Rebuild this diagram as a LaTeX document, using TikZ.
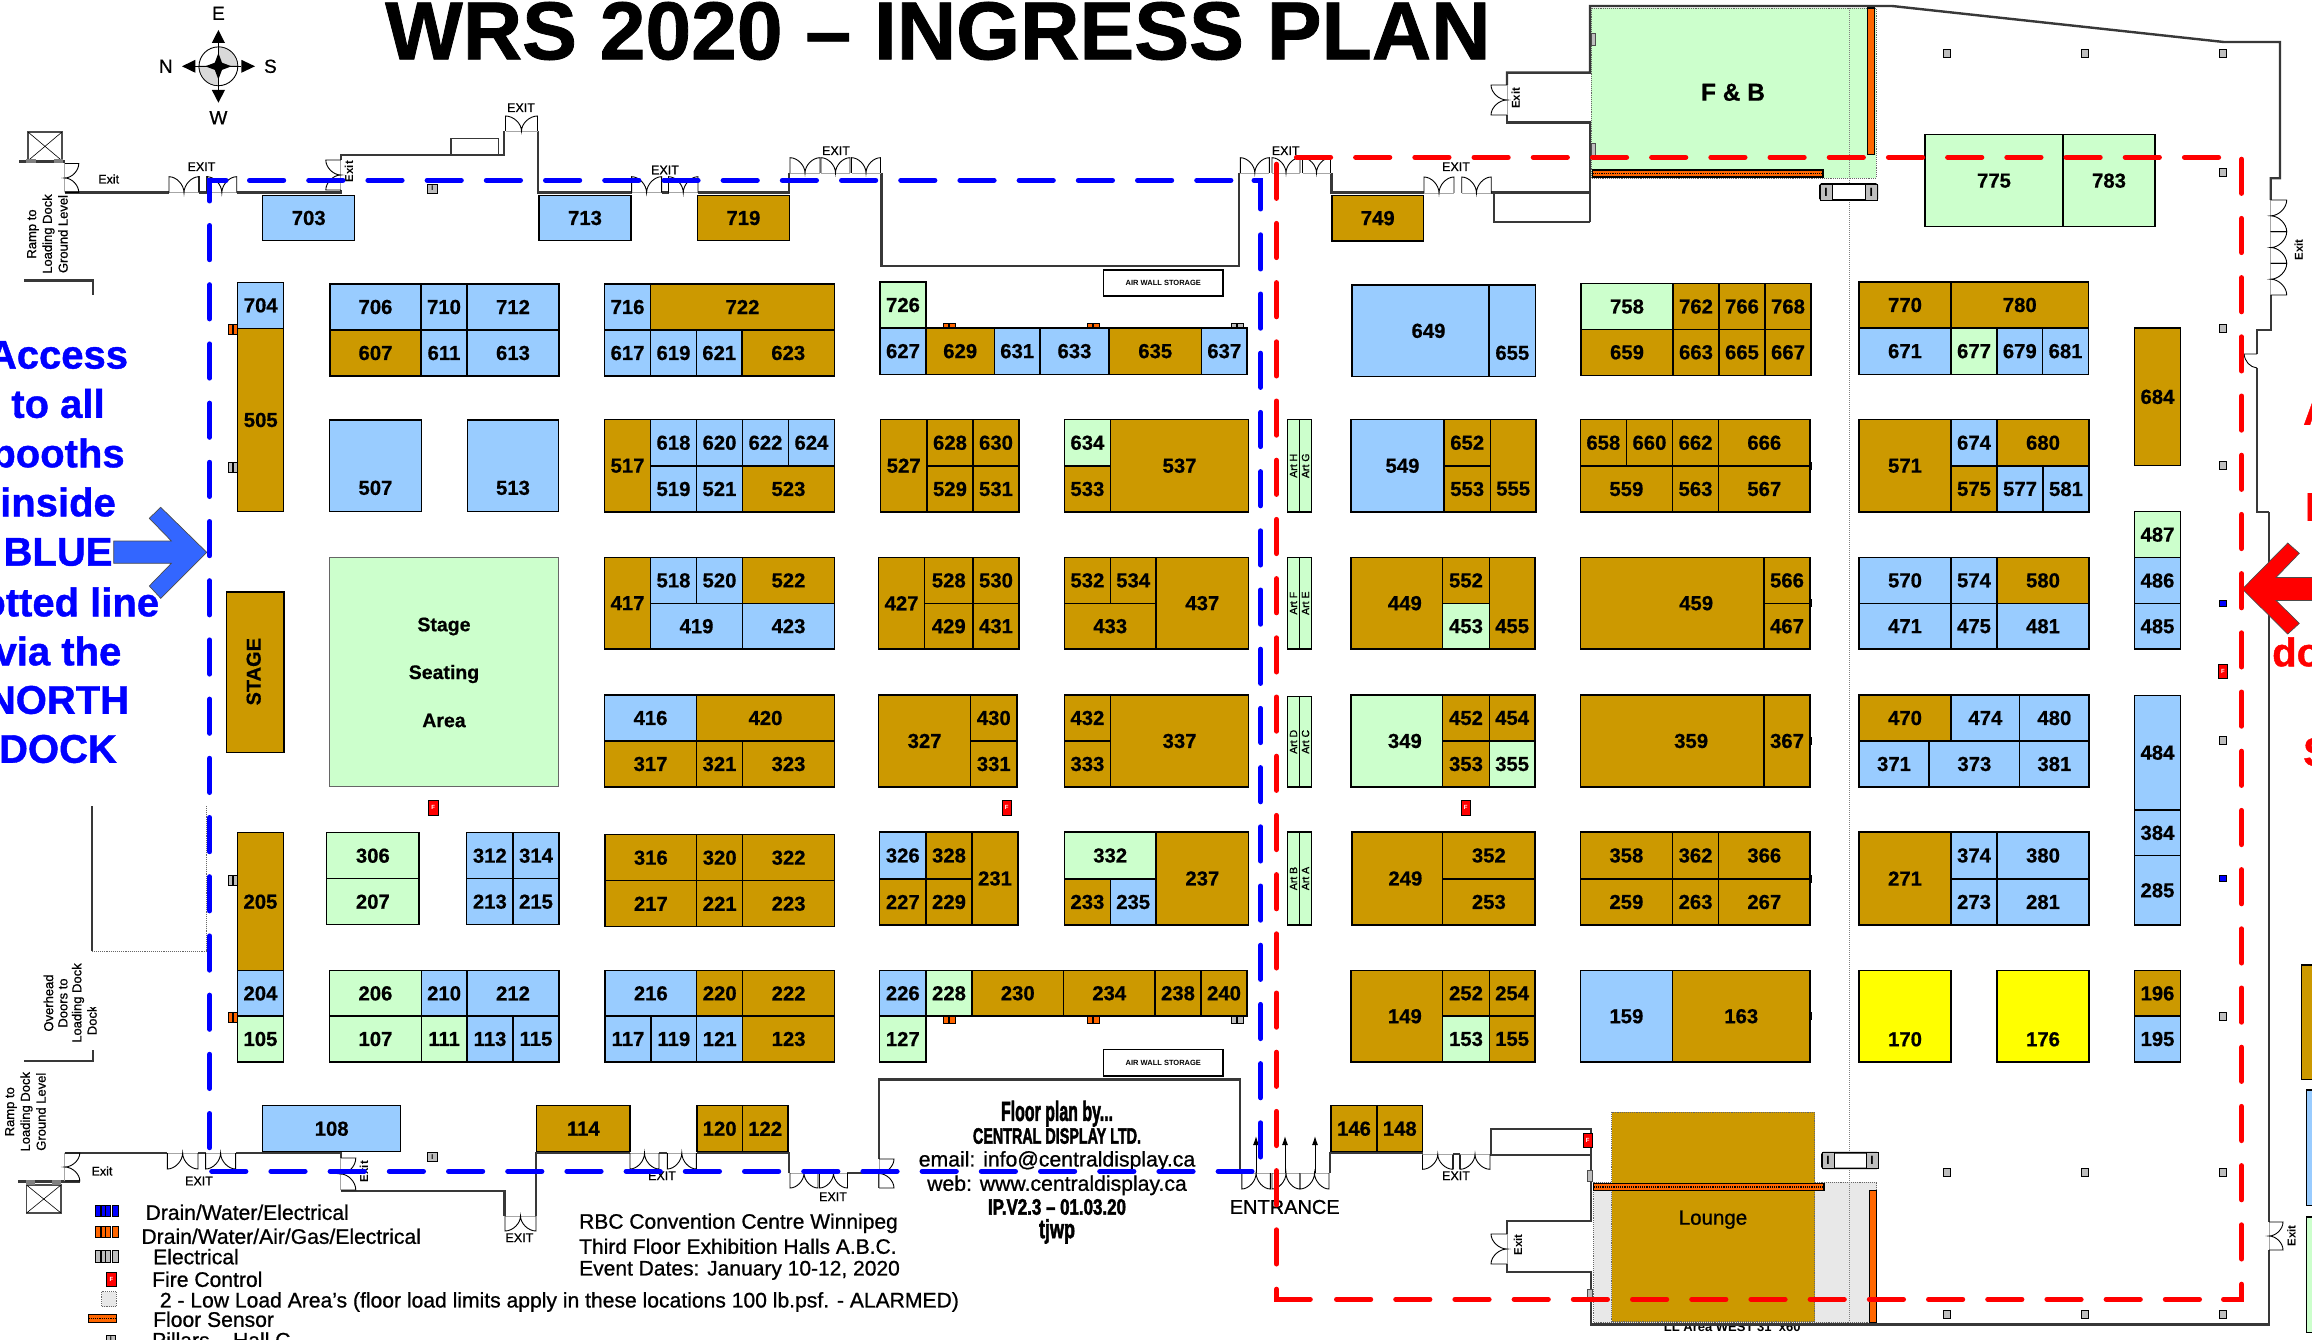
\documentclass[tikz,border=0pt]{standalone}
\usepackage{fontspec}
\usepackage{graphicx}
\setmainfont{Liberation Sans}
\newfontfamily\semib[FakeBold=0.8]{Liberation Sans}
\newfontfamily\heavyf[BoldFeatures={FakeBold=1.0}]{Liberation Sans}
\newfontfamily\numf[BoldFeatures={FakeBold=0.6}]{Liberation Sans}
\newfontfamily\heavier[BoldFeatures={FakeBold=2.5}]{Liberation Sans}
\usetikzlibrary{arrows.meta}
\definecolor{bb}{HTML}{99CCFF}
\definecolor{br}{HTML}{CC9900}
\definecolor{gr}{HTML}{CCFFCC}
\definecolor{yl}{HTML}{FFFF00}
\definecolor{orng}{HTML}{FF6600}
\definecolor{wallc}{HTML}{383838}
\definecolor{lowg}{HTML}{E8E8E8}
\definecolor{pilg}{HTML}{BEBEBE}
\definecolor{arrb}{HTML}{3366FF}
\newcommand{\fs}[1]{\fontsize{#1}{#1}\selectfont}
\tikzset{
  num/.style={inner sep=0pt,font=\fs{20.3}\numf\bfseries,text=black},
  boothbox/.style={draw=black,line width=1.2pt},
  wall/.style={draw=wallc,line width=2.4pt,line cap=butt,line join=miter},
  thinwall/.style={draw=wallc,line width=1.5pt},
  doorline/.style={draw=black,line width=0.9pt},
  doorbase/.style={draw=black!35,line width=0.8pt},
  exitlab/.style={inner sep=0pt,font=\fs{12.5}\semib},
  exitrot/.style={inner sep=0pt,font=\fs{11.5}\bfseries,rotate=90},
  ramp/.style={inner sep=0pt,font=\fs{13}\semib,rotate=90},
  arttxt/.style={inner sep=0pt,font=\fs{10.5}\semib,rotate=90},
  legtxt/.style={inner sep=0pt,anchor=west,font=\fs{21.1}\semib},
  centertxt/.style={inner sep=0pt,font=\fs{21.2}\semib},
  bigblue/.style={inner sep=0pt,font=\fs{40}\heavyf\bfseries,text=blue},
  bigred/.style={inner sep=0pt,font=\fs{40}\heavyf\bfseries,text=red,anchor=west},
  bdash/.style={draw=blue,line width=5pt,line cap=round,dash pattern=on 34.2pt off 25pt},
  rdash/.style={draw=red,line width=5pt,line cap=round,dash pattern=on 34.2pt off 25pt},
  bsolid/.style={draw=blue,line width=5pt,line cap=round,line join=miter},
  rsolid/.style={draw=red,line width=5pt,line cap=round,line join=miter},
  airbox/.style={draw=black,line width=1.3pt,fill=white},
  airtxt/.style={inner sep=0pt,font=\fs{7.5}\bfseries},
  sensor/.style={draw=black,line width=1.2pt,fill=orng},
  sensordots/.style={draw=black,line width=1.2pt,densely dotted},
  dotgrey/.style={draw=black!60,line width=0.9pt,densely dotted},
}
\newcommand{\bthO}[8]{%
  \path[boothbox,fill=#3] (#4,#5) rectangle (#6,#7);
  \node[num] (b#8) at ({(#4+#6)/2+#1},{(#5+#7)/2+#2}) {#8};}
\newcommand{\bth}[6]{\bthO{0}{0}{#1}{#2}{#3}{#4}{#5}{#6}}
\newcommand{\drH}[4]{%
  \draw[doorbase] (#1,#3) -- ({#1+#2},#3);
  \draw[doorline] (#1,#3) -- (#1,{#3-#4})
   .. controls ({#1+#2/4},{#3-#4}) and ({#1+#2/2},{#3-#4/2}) .. ({#1+#2/2},#3)
   .. controls ({#1+#2/2},{#3-#4/2}) and ({#1+3*#2/4},{#3-#4}) .. ({#1+#2},{#3-#4})
   -- ({#1+#2},#3);}
\newcommand{\drV}[4]{%
  \draw[doorbase] (#1,#2) -- (#1,{#2+#3});
  \draw[doorline] (#1,#2) -- ({#1+#4},#2)
   .. controls ({#1+#4},{#2+#3/4}) and ({#1+#4/2},{#2+#3/2}) .. (#1,{#2+#3/2})
   .. controls ({#1+#4/2},{#2+#3/2}) and ({#1+#4},{#2+3*#3/4}) .. ({#1+#4},{#2+#3})
   -- (#1,{#2+#3});}
\newcommand{\util}[5]{%
  \path[draw=black,line width=0.6pt,fill=#1] (#2,#3) rectangle ({#2+#4*0.46},{#3+#5});
  \path[draw=black,line width=0.6pt,fill=#1] ({#2+#4*0.54},#3) rectangle ({#2+#4},{#3+#5});}
\newcommand{\pil}[2]{\path[draw=black,line width=0.7pt,fill=pilg] ({#1-3.4},{#2-4}) rectangle ({#1+3.4},{#2+4});}
\newcommand{\bluem}[2]{\path[draw=black,line width=0.5pt,fill=blue] ({#1-3.8},{#2-3.2}) rectangle ({#1+3.8},{#2+3.2});}
\newcommand{\firec}[5]{%
  \path[draw=black,line width=0.6pt,fill=red] (#2,#3) rectangle (#4,#5);
  \node[inner sep=0pt,font=\fs{6}\bfseries,text=white] (#1) at ({(#2+#4)/2},{(#3+#5)/2}) {F};}
\newcommand{\hbeam}[3]{%
  \path[draw=black,line width=0.8pt,fill=pilg] (#2,#3) rectangle ({#2+9.5},{#3+9});
  \node[inner sep=0pt,font=\fs{7}\bfseries] (#1) at ({#2+4.75},{#3+4.5}) {I};}
\newcommand{\beampair}[6]{%
  \path[draw=black,line width=1.6pt,rounded corners=1.5pt,fill=white] (#3,#4) rectangle (#5,#6);
  \path[draw=black,line width=0.8pt,fill=pilg] (#3,#4) rectangle ({#3+12},#6);
  \path[draw=black,line width=0.8pt,fill=pilg] ({#5-12},#4) rectangle (#5,#6);
  \node[inner sep=0pt,font=\fs{12}\bfseries] (#1) at ({#3+6},{(#4+#6)/2}) {I};
  \node[inner sep=0pt,font=\fs{12}\bfseries] (#2) at ({#5-6},{(#4+#6)/2}) {I};}
\newcommand{\nub}[2]{\path[fill=black] (#1,{#2-4}) rectangle ({#1+2.2},{#2+4});}
\newcommand{\lift}[4]{%
  \path[draw=black!70,line width=1.2pt] (#1,#2) rectangle (#3,#4);
  \draw[black,line width=0.6pt] (#1,#2) -- (#3,#4) (#1,#4) -- (#3,#2);}
\begin{document}
\begin{tikzpicture}[x=1pt,y=-1pt]
\useasboundingbox (0,0) rectangle (2312,1340);
\path[fill=white] (0,0) rectangle (2312,1340);

%% title
\node[inner sep=0pt,anchor=base west,font=\fs{82.2}\heavyf\bfseries] (title) at (385,59.3) {WRS 2020 – INGRESS PLAN};

%% compass
\path[draw=black,line width=0.9pt,fill=white] (218.4,66.3) circle (19.4);
\path[fill=black!15,draw=black,line width=0.6pt] (218.4,66.3) -- (218.4,46.9) arc[start angle=270,end angle=360,radius=19.4] -- cycle;
\path[fill=black!15,draw=black,line width=0.6pt] (218.4,66.3) -- (218.4,85.7) arc[start angle=90,end angle=180,radius=19.4] -- cycle;
\draw[black,line width=0.9pt] (218.4,43) -- (218.4,90) (195.4,66.3) -- (241.3,66.3);
\path[fill=black] (218.4,53) -- (222,62.7) -- (231.5,66.3) -- (222,69.9) -- (218.4,79.5) -- (214.8,69.9) -- (205.3,66.3) -- (214.8,62.7) -- cycle;
\path[fill=black] (218.4,30) -- (225,43) -- (211.8,43) -- cycle;
\path[fill=black] (218.4,102.7) -- (225,90) -- (211.8,90) -- cycle;
\path[fill=black] (182,66.3) -- (195.4,59.8) -- (195.4,72.8) -- cycle;
\path[fill=black] (255,66.3) -- (241.3,59.8) -- (241.3,72.8) -- cycle;
\node[inner sep=0pt,font=\fs{19}\semib] (cpE) at (218.4,13.3) {E};
\node[inner sep=0pt,font=\fs{19}\semib] (cpW) at (218.4,117.7) {W};
\node[inner sep=0pt,font=\fs{19}\semib] (cpN) at (165.8,66.3) {N};
\node[inner sep=0pt,font=\fs{19}\semib] (cpS) at (270.4,66.3) {S};

%% special areas (top)
\path[fill=gr,dotgrey] (1591,8) rectangle (1876,178);
\node[inner sep=0pt,font=\fs{24.5}\numf\bfseries] (fb) at (1733,92.3) {F \& B};

%% bottom areas
\node[inner sep=0pt,font=\fs{13}\bfseries] (llarea) at (1734,1327) {LL Area WEST 31’ x60’};
\path[fill=lowg,dotgrey] (1593.6,1182.3) rectangle (1876.8,1322.7);
\path[fill=br,dotgrey] (1611.5,1112.3) rectangle (1814.5,1321.7);
\node[inner sep=0pt,font=\fs{20.5}\semib] (lounge) at (1713,1219.7) {Lounge};

%% thin divider
\draw[black!50,line width=1pt,densely dotted] (1849.8,8) -- (1849.8,1322);

%% sensors
\path[sensor] (1867.6,8) rectangle (1874.8,154.3);
\path[sensor] (1592.6,170) rectangle (1823,177);
\draw[sensordots] (1592.6,173.5) -- (1823,173.5);
\path[sensor] (1593.6,1183.3) rectangle (1824,1190.7);
\draw[sensordots] (1593.6,1187) -- (1824,1187);
\path[sensor] (1869.7,1190.7) rectangle (1876.3,1322.7);

%% utilities beside booths (booths drawn afterwards)
\util{orng}{228.5}{324}{9}{10.3}
\util{pilg}{228.5}{462.7}{9}{9.5}
\util{pilg}{228.2}{875}{9}{10}
\util{orng}{228.2}{1012.3}{9}{10.4}
\util{orng}{943}{323.5}{12}{6}
\util{orng}{1087}{323.5}{12}{6}
\util{pilg}{1231}{323.5}{12}{6}
\util{orng}{943}{1016}{12}{7}
\util{orng}{1087}{1016}{12}{7}
\util{pilg}{1231}{1016}{12}{7}

%% top-edge booths
\bth{bb}{262.8}{195.3}{354.6}{240.7}{703}
\bth{bb}{539}{195.3}{631}{240.7}{713}
\bth{br}{697.5}{195.3}{789.3}{240.7}{719}
\bth{br}{1332}{195.3}{1423.5}{241}{749}
\bth{gr}{1925}{134.7}{2063}{226.7}{775}
\bth{gr}{2063}{134.7}{2155}{226.7}{783}

%% left column
\bth{bb}{237.8}{282.3}{283.7}{328.3}{704}
\bth{br}{237.8}{328.3}{283.7}{511.7}{505}
\path[boothbox,fill=br] (226.6,592) rectangle (284,752.7);
\node[inner sep=0pt,font=\fs{20}\numf\bfseries,rotate=90] (stage) at (253.7,671.7) {STAGE};
\bth{br}{237.5}{832.7}{283.4}{970.7}{205}
\bth{bb}{237.5}{970.7}{283.4}{1016}{204}
\bth{gr}{237.5}{1016}{283.4}{1062}{105}

%% 706 block
\bth{bb}{330}{284}{421}{330}{706}
\bth{bb}{421}{284}{467}{330}{710}
\bth{bb}{467}{284}{559}{330}{712}
\bth{br}{330}{330}{421}{376}{607}
\bth{bb}{421}{330}{467}{376}{611}
\bth{bb}{467}{330}{559}{376}{613}
\bthO{0}{22}{bb}{329.5}{420}{421.4}{511.7}{507}
\bthO{0}{22}{bb}{467.3}{420}{558.7}{511.7}{513}
\path[boothbox,draw=black!60,fill=gr] (329.5,557.3) rectangle (558.7,786.7);
\node[inner sep=0pt,font=\fs{19.5}\numf\bfseries] (seat1) at (444,626.5) {Stage};
\node[inner sep=0pt,font=\fs{19.5}\numf\bfseries] (seat2) at (444,674) {Seating};
\node[inner sep=0pt,font=\fs{19.5}\numf\bfseries] (seat3) at (444,720.5) {Area};
\bth{gr}{326.7}{832.7}{419}{878.7}{306}
\bth{gr}{326.7}{878.7}{419}{924.7}{207}
\bth{bb}{466.7}{832.7}{513}{878.7}{312}
\bth{bb}{513}{832.7}{559}{878.7}{314}
\bth{bb}{466.7}{878.7}{513}{924.7}{213}
\bth{bb}{513}{878.7}{559}{924.7}{215}
\bth{gr}{329.7}{970.7}{421.2}{1016}{206}
\bth{bb}{421.2}{970.7}{467}{1016}{210}
\bth{bb}{467}{970.7}{559}{1016}{212}
\bth{gr}{329.7}{1016}{421.2}{1062}{107}
\bth{gr}{421.2}{1016}{467}{1062}{111}
\bth{bb}{467}{1016}{513}{1062}{113}
\bth{bb}{513}{1016}{559}{1062}{115}

%% 716 block
\bth{bb}{604.6}{284}{650.5}{330}{716}
\bth{br}{650.5}{284}{834.5}{330}{722}
\bth{bb}{604.6}{330}{650.5}{376}{617}
\bth{bb}{650.5}{330}{696.5}{376}{619}
\bth{bb}{696.5}{330}{742}{376}{621}
\bth{br}{742}{330}{834.5}{376}{623}
%% 517 block
\bth{br}{604.6}{419.5}{650.5}{512}{517}
\bth{bb}{650.5}{419.5}{696.5}{466}{618}
\bth{bb}{696.5}{419.5}{742.5}{466}{620}
\bth{bb}{742.5}{419.5}{788.5}{466}{622}
\bth{bb}{788.5}{419.5}{834.5}{466}{624}
\bth{bb}{650.5}{466}{696.5}{512}{519}
\bth{bb}{696.5}{466}{742.5}{512}{521}
\bth{br}{742.5}{466}{834.5}{512}{523}
%% 417 block
\bth{br}{604.6}{557.4}{650.5}{649}{417}
\bth{bb}{650.5}{557.4}{696.5}{603.4}{518}
\bth{bb}{696.5}{557.4}{742.5}{603.4}{520}
\bth{br}{742.5}{557.4}{834.5}{603.4}{522}
\bth{bb}{650.5}{603.4}{742.5}{649}{419}
\bth{bb}{742.5}{603.4}{834.5}{649}{423}
%% 416 block
\bth{bb}{604.6}{695}{696.5}{741}{416}
\bth{br}{696.5}{695}{834.5}{741}{420}
\bth{br}{604.6}{741}{696.5}{787}{317}
\bth{br}{696.5}{741}{742.5}{787}{321}
\bth{br}{742.5}{741}{834.5}{787}{323}
%% 316 block
\bth{br}{605}{834.7}{696.7}{880.7}{316}
\bth{br}{696.7}{834.7}{742.7}{880.7}{320}
\bth{br}{742.7}{834.7}{834.5}{880.7}{322}
\bth{br}{605}{880.7}{696.7}{926.7}{217}
\bth{br}{696.7}{880.7}{742.7}{926.7}{221}
\bth{br}{742.7}{880.7}{834.5}{926.7}{223}
%% 216 block
\bth{bb}{605}{970.7}{696.7}{1016}{216}
\bth{br}{696.7}{970.7}{742.7}{1016}{220}
\bth{br}{742.7}{970.7}{834.5}{1016}{222}
\bth{bb}{605}{1016}{651}{1062}{117}
\bth{bb}{651}{1016}{696.7}{1062}{119}
\bth{bb}{696.7}{1016}{742.7}{1062}{121}
\bth{br}{742.7}{1016}{834.5}{1062}{123}

%% 627 row
\bth{gr}{880}{282}{926}{328}{726}
\bth{bb}{880}{328}{926}{374.3}{627}
\bth{br}{926}{328}{994.4}{374.3}{629}
\bth{bb}{994.4}{328}{1040}{374.3}{631}
\bth{bb}{1040}{328}{1109}{374.3}{633}
\bth{br}{1109}{328}{1201.5}{374.3}{635}
\bth{bb}{1201.5}{328}{1247}{374.3}{637}
%% 527
\bth{br}{880.4}{419.5}{927}{512}{527}
\bth{br}{927}{419.5}{973}{466}{628}
\bth{br}{973}{419.5}{1019}{466}{630}
\bth{br}{927}{466}{973}{512}{529}
\bth{br}{973}{466}{1019}{512}{531}
\bth{gr}{1064.4}{419.5}{1110.4}{466}{634}
\bth{br}{1064.4}{466}{1110.4}{512}{533}
\bth{br}{1110.4}{419.5}{1248.7}{512}{537}
%% 427
\bth{br}{878.6}{557.4}{924.6}{649}{427}
\bth{br}{924.6}{557.4}{973}{603.4}{528}
\bth{br}{973}{557.4}{1019}{603.4}{530}
\bth{br}{924.6}{603.4}{973}{649}{429}
\bth{br}{973}{603.4}{1019}{649}{431}
\bth{br}{1064.4}{557.4}{1110.4}{603.4}{532}
\bth{br}{1110.4}{557.4}{1156}{603.4}{534}
\bth{br}{1064.4}{603.4}{1156}{649}{433}
\bth{br}{1156}{557.4}{1248.7}{649}{437}
%% 327
\bth{br}{878.6}{695}{970.6}{787}{327}
\bth{br}{970.6}{695}{1017}{741}{430}
\bth{br}{970.6}{741}{1017}{787}{331}
\bth{br}{1064.4}{695}{1110.4}{741}{432}
\bth{br}{1064.4}{741}{1110.4}{787}{333}
\bth{br}{1110.4}{695}{1248.7}{787}{337}
%% 326
\bth{bb}{879.6}{832}{926}{879}{326}
\bth{br}{926}{832}{972}{879}{328}
\bth{br}{879.6}{879}{926}{925}{227}
\bth{br}{926}{879}{972}{925}{229}
\bth{br}{972}{832}{1018}{925}{231}
\bth{gr}{1064.4}{832}{1156}{879}{332}
\bth{br}{1064.4}{879}{1110.4}{925}{233}
\bth{bb}{1110.4}{879}{1156}{925}{235}
\bth{br}{1156}{832}{1248.7}{925}{237}
%% 226 row
\bth{bb}{879.6}{970.5}{926}{1016}{226}
\bth{gr}{926}{970.5}{972}{1016}{228}
\bth{br}{972}{970.5}{1063.5}{1016}{230}
\bth{br}{1063.5}{970.5}{1155}{1016}{234}
\bth{br}{1155}{970.5}{1201}{1016}{238}
\bth{br}{1201}{970.5}{1247}{1016}{240}
\bth{gr}{879.6}{1016}{926}{1062}{127}

%% air wall storage
\path[airbox] (1103.6,270) rectangle (1223,296);
\node[airtxt] (air1) at (1163.3,283) {AIR WALL STORAGE};
\path[airbox] (1103.6,1049.3) rectangle (1223,1076);
\node[airtxt] (air2) at (1163.3,1062.5) {AIR WALL STORAGE};

%% art columns
\foreach \ya/\yb/\la/\lb/\n in {419.5/512/Art H/Art G/1,557.4/649/Art F/Art E/2,696.6/787/Art D/Art C/3,832/925/Art B/Art A/4}{
  \path[boothbox,fill=gr] (1287.4,\ya) rectangle (1299.5,\yb);
  \path[boothbox,fill=gr] (1299.5,\ya) rectangle (1311.6,\yb);
  \node[arttxt] (artl\n) at (1293.5,{(\ya+\yb)/2}) {\la};
  \node[arttxt] (artr\n) at (1305.5,{(\ya+\yb)/2}) {\lb};
}

%% 649 / 549 column
\bthO{8}{0}{bb}{1352}{285}{1489}{376.7}{649}
\bthO{0}{22}{bb}{1489}{285}{1535.7}{376.7}{655}
\bthO{5}{0}{bb}{1351}{419.5}{1444}{512}{549}
\bth{br}{1444}{419.5}{1490.4}{466}{652}
\bth{br}{1444}{466}{1490.4}{512}{553}
\bthO{0}{23}{br}{1490.4}{419.5}{1536}{512}{555}
\bthO{8}{0}{br}{1351}{557.4}{1442.7}{649}{449}
\bth{br}{1442.7}{557.4}{1489.3}{603.4}{552}
\bth{gr}{1442.7}{603.4}{1489.3}{649}{453}
\bthO{0}{23}{br}{1489.3}{557.4}{1535}{649}{455}
\bthO{8}{0}{gr}{1351}{695}{1442.7}{787}{349}
\bth{br}{1442.7}{695}{1489.3}{741}{452}
\bth{br}{1489.3}{695}{1535}{741}{454}
\bth{br}{1442.7}{741}{1489.3}{787}{353}
\bth{gr}{1489.3}{741}{1535}{787}{355}
\bthO{8}{0}{br}{1352}{832}{1442.7}{925}{249}
\bth{br}{1442.7}{832}{1535}{879}{352}
\bth{br}{1442.7}{879}{1535}{925}{253}
\bthO{8}{0}{br}{1351}{970.5}{1442.7}{1062}{149}
\bth{br}{1442.7}{970.5}{1489.3}{1016}{252}
\bth{br}{1489.3}{970.5}{1535}{1016}{254}
\bth{gr}{1442.7}{1016}{1489.3}{1062}{153}
\bth{br}{1489.3}{1016}{1535}{1062}{155}

%% 758 block column
\bth{gr}{1581}{283.7}{1673}{329.3}{758}
\bth{br}{1673}{283.7}{1719}{329.3}{762}
\bth{br}{1719}{283.7}{1765}{329.3}{766}
\bth{br}{1765}{283.7}{1811}{329.3}{768}
\bth{br}{1581}{329.3}{1673}{375.3}{659}
\bth{br}{1673}{329.3}{1719}{375.3}{663}
\bth{br}{1719}{329.3}{1765}{375.3}{665}
\bth{br}{1765}{329.3}{1811}{375.3}{667}
\bth{br}{1580.3}{419.5}{1626.4}{466}{658}
\bth{br}{1626.4}{419.5}{1672.5}{466}{660}
\bth{br}{1672.5}{419.5}{1718.6}{466}{662}
\bth{br}{1718.6}{419.5}{1810}{466}{666}
\bth{br}{1580.3}{466}{1672.5}{512}{559}
\bth{br}{1672.5}{466}{1718.6}{512}{563}
\bth{br}{1718.6}{466}{1810}{512}{567}
\bthO{24}{0}{br}{1580.3}{557.4}{1764}{649}{459}
\bth{br}{1764}{557.4}{1810}{603.4}{566}
\bth{br}{1764}{603.4}{1810}{649}{467}
\bthO{19}{0}{br}{1580.3}{695}{1764}{787}{359}
\bth{br}{1764}{695}{1810}{787}{367}
\bth{br}{1580.3}{832}{1672.5}{879}{358}
\bth{br}{1672.5}{832}{1718.6}{879}{362}
\bth{br}{1718.6}{832}{1810}{879}{366}
\bth{br}{1580.3}{879}{1672.5}{925}{259}
\bth{br}{1672.5}{879}{1718.6}{925}{263}
\bth{br}{1718.6}{879}{1810}{925}{267}
\bth{bb}{1580.3}{970.5}{1672.5}{1062}{159}
\bth{br}{1672.5}{970.5}{1810}{1062}{163}
\nub{1810}{466}\nub{1810}{603.4}\nub{1810}{741}\nub{1810}{879}\nub{1810}{1016}

%% right block
\bth{br}{1859}{282}{1951}{328}{770}
\bth{br}{1951}{282}{2088.5}{328}{780}
\bth{bb}{1859}{328}{1951}{374.3}{671}
\bth{gr}{1951}{328}{1997}{374.3}{677}
\bth{bb}{1997}{328}{2042.6}{374.3}{679}
\bth{bb}{2042.6}{328}{2088.5}{374.3}{681}
\bth{br}{1859}{419.5}{1951}{512}{571}
\bth{bb}{1951}{419.5}{1997}{466}{674}
\bth{br}{1997}{419.5}{2089}{466}{680}
\bth{br}{1951}{466}{1997}{512}{575}
\bth{bb}{1997}{466}{2043}{512}{577}
\bth{bb}{2043}{466}{2089}{512}{581}
\bth{bb}{1859}{557.4}{1951}{603.4}{570}
\bth{bb}{1951}{557.4}{1997}{603.4}{574}
\bth{br}{1997}{557.4}{2089}{603.4}{580}
\bth{bb}{1859}{603.4}{1951}{649}{471}
\bth{bb}{1951}{603.4}{1997}{649}{475}
\bth{bb}{1997}{603.4}{2089}{649}{481}
\bth{br}{1859}{695}{1951}{741}{470}
\bth{bb}{1951}{695}{2019.7}{741}{474}
\bth{bb}{2019.7}{695}{2089}{741}{480}
\bth{bb}{1859}{741}{1929}{787}{371}
\bth{bb}{1929}{741}{2019.7}{787}{373}
\bth{bb}{2019.7}{741}{2089}{787}{381}
\bth{br}{1859}{832}{1951}{925}{271}
\bth{bb}{1951}{832}{1997}{879}{374}
\bth{bb}{1997}{832}{2089}{879}{380}
\bth{bb}{1951}{879}{1997}{925}{273}
\bth{bb}{1997}{879}{2089}{925}{281}
\bthO{0}{23}{yl}{1859}{970.5}{1951}{1062}{170}
\bthO{0}{23}{yl}{1997}{970.5}{2089}{1062}{176}

%% far right column
\bth{br}{2134.5}{328}{2180.4}{465.7}{684}
\bth{gr}{2134.5}{511.6}{2180.4}{557.6}{487}
\bth{bb}{2134.5}{557.6}{2180.4}{603.5}{486}
\bth{bb}{2134.5}{603.5}{2180.4}{649}{485}
\bth{bb}{2134.5}{695.3}{2180.4}{810}{484}
\bth{bb}{2134.5}{810}{2180.4}{855.7}{384}
\bth{bb}{2134.5}{855.7}{2180.4}{925}{285}
\bth{br}{2134.5}{970.7}{2180.4}{1016}{196}
\bth{bb}{2134.5}{1016}{2180.4}{1062}{195}

%% bottom edge booths
\bth{bb}{262.8}{1105.7}{400.5}{1151.7}{108}
\bth{br}{536.7}{1105.7}{630}{1151.7}{114}
\bth{br}{697}{1105.7}{742.3}{1151.7}{120}
\bth{br}{742.3}{1105.7}{788}{1151.7}{122}
\bth{br}{1331}{1105.7}{1377}{1151.7}{146}
\bth{br}{1377}{1105.7}{1422.5}{1151.7}{148}

%% booths at the page edge (no label visible)
\path[boothbox,fill=br] (2301.5,965) rectangle (2320,1079.5);
\path[boothbox,fill=bb] (2306.3,1090) rectangle (2320,1205.5);
\path[boothbox,fill=gr] (2306.3,1217) rectangle (2320,1332.3);

%% walls top
\draw[wall] (64.8,192.7) -- (169,192.7);
\draw[wall] (199,192.7) -- (199,176) (207,176) -- (207,192.7) (199,192.7) -- (207,192.7);
\draw[wall] (236.7,192.7) -- (340.8,192.7) -- (340.8,190);
\draw[wall] (340.8,160) -- (340.8,155) -- (504,155) -- (504,131);
\draw[thinwall] (451,155) -- (451,138.3) -- (498.5,138.3) -- (498.5,155);
\draw[wall] (538,131) -- (538,192.7) -- (631.6,192.7);
\draw[wall] (661.7,192.7) -- (668.5,192.7);
\draw[wall] (698,192.7) -- (789,192.7) -- (789,173);
\draw[wall] (881.5,173) -- (881.5,266) -- (1239,266) -- (1239,173);
\draw[wall] (1331.5,173) -- (1331.5,192.7) -- (1424,192.7);
\draw[wall] (1491,192.7) -- (1590,192.7);
\draw[wall] (1494,193) -- (1494,222) -- (1590,222);
\draw[wall] (1590,222) -- (1590,122.7) -- (1507,122.7) -- (1507,115);
\draw[wall] (1507,85) -- (1507,72.7) -- (1590,72.7) -- (1590,6) -- (1892,6) -- (2223.7,42) -- (2280,42) -- (2280,178.3) -- (2270.7,178.3) -- (2270.7,200);
\draw[wall] (2270.7,295) -- (2270.7,330) -- (2257,330) -- (2257,354);
\draw[wall] (2257,368) -- (2257,512) -- (2269,512);
\draw[thinwall] (2269,512) -- (2269,1107);
\draw[wall] (2269,1107) -- (2269,1222);
\draw[wall] (2269,1250) -- (2269,1324.5) -- (1591,1324.5) -- (1591,1271.7) -- (1507,1271.7) -- (1507,1264);
\draw[wall] (1507,1234) -- (1507,1221) -- (1591,1221) -- (1591,1129) -- (1491,1129) -- (1491,1155) -- (1591,1155);
\draw[wall] (1422.5,1153) -- (1330,1153) -- (1330,1173);
\draw[wall] (1453,1154) -- (1453,1169) (1460,1169) -- (1460,1154) (1453,1154) -- (1460,1154);
\draw[wall] (1239.8,1173) -- (1239.8,1079.3) -- (879,1079.3) -- (879,1159);
\draw[wall] (879,1188) -- (879,1173) -- (847.4,1173);
\draw[wall] (789,1173) -- (789,1153) -- (696.5,1153);
\draw[wall] (667.3,1153) -- (659,1153);
\draw[wall] (630,1153) -- (536,1153) -- (536,1216);
\draw[wall] (504.5,1216) -- (504.5,1190.7) -- (340.8,1190.7);
\draw[wall] (340.8,1158) -- (340.8,1153) -- (235.7,1153);
\draw[wall] (205.6,1153) -- (198,1153);
\draw[wall] (167.3,1153) -- (64.8,1153);
\draw[wall] (24,280.7) -- (92.9,280.7) -- (92.9,295);
\draw[wall] (24,1061) -- (93,1061) -- (93,1050);
\draw[wall] (92,806) -- (92,951);
\draw[dotgrey] (206.5,806) -- (206.5,951) -- (92,951);

%% lifts
\lift{28}{132}{62}{160.7}
\draw[wall,line width=3pt] (19.4,161.5) -- (64.8,161.5);
\path[fill=black!50] (26,159.5) rectangle (36,163.5);
\path[fill=black!50] (54,159.5) rectangle (63,163.5);
\lift{26.5}{1185}{61}{1213}
\draw[wall,line width=3pt] (18,1181.7) -- (80,1181.7);
\path[fill=black!50] (26,1180) rectangle (35,1184.5);
\path[fill=black!50] (52,1180) rectangle (61,1184.5);

%% doors, top edge
\drV{64.8}{163.5}{29}{14}
\drH{169}{30}{192.7}{16}
\drH{207}{29.7}{192.7}{16}
\drV{340.8}{160}{30}{-15}
\drH{505.5}{32}{131}{15}
\drH{631.6}{30}{192.7}{16}
\drH{668.5}{29.5}{192.7}{16}
\drH{790}{30}{173}{15.3}
\drH{821}{29}{173}{15.3}
\drH{851.5}{29}{173}{15.3}
\drH{1240.3}{29}{173}{15.3}
\drH{1272}{28}{173}{15.3}
\drH{1302.5}{28}{173}{15.3}
\drH{1424}{30}{193}{16}
\drH{1461.7}{29.5}{193}{16}
\drV{1507}{85}{30}{-16}
\drV{2270.7}{200}{31.7}{16}
\drV{2270.7}{231.7}{31.7}{16}
\drV{2270.7}{263.4}{31.6}{16}
\draw[doorline] (2244,354) -- (2257,354) (2244,354) .. controls (2245,362) and (2250,367) .. (2257,368);
\drV{2269}{1222}{28}{14}
%% doors, bottom edge
\drV{64.8}{1153}{28}{15}
\drH{167.3}{30.7}{1153}{-16}
\drH{205.6}{30}{1153}{-16}
\drV{340.8}{1158}{32}{15}
\drH{505}{31}{1216}{-15}
\drH{630}{29}{1153}{-16}
\drH{667.3}{29}{1153}{-16}
\drH{790}{28}{1173}{-15}
\drH{819.5}{28}{1173}{-15}
\drV{879}{1159}{29}{15}
\drH{1241.8}{28.6}{1173}{-16}
\drH{1272}{28}{1173}{-16}
\drH{1300}{29}{1173}{-16}
\drH{1422.5}{30.5}{1154.3}{-15}
\drH{1460}{30}{1154.3}{-15}
\drV{1507}{1234}{30}{-16}

%% entrance arrows
\coordinate (ent1a) at (1256,1173); \coordinate (ent1b) at (1256,1136);
\coordinate (ent2a) at (1285,1173); \coordinate (ent2b) at (1285,1136);
\coordinate (ent3a) at (1315,1173); \coordinate (ent3b) at (1315,1136);
\draw[black,line width=1pt,-{Latex[length=9pt,width=6pt]}] (ent1a) -- (ent1b);
\draw[black,line width=1pt,-{Latex[length=9pt,width=6pt]}] (ent2a) -- (ent2b);
\draw[black,line width=1pt,-{Latex[length=9pt,width=6pt]}] (ent3a) -- (ent3b);

%% pillars
\foreach \px in {1947,2085,2222.7}{\pil{\px}{53}\pil{\px}{1172}\pil{\px}{1314}}
\foreach \py in {172,328,465.8,740,1016}{\pil{2222.7}{\py}}
\bluem{2222.7}{603}\bluem{2222.7}{878}
\path[draw=black!70,line width=0.6pt,fill=pilg] (1591,33) rectangle (1595.7,45);
\path[draw=black!70,line width=0.6pt,fill=pilg] (1591,143) rectangle (1595.7,155);
\path[draw=black!70,line width=0.6pt,fill=pilg] (1587.5,1170) rectangle (1592.6,1181.7);
\path[draw=black!70,line width=0.6pt,fill=pilg] (1587.5,1289) rectangle (1592.6,1301);

%% fire controls
\firec{fc1}{428.5}{800.3}{438}{815}
\firec{fc2}{1001.9}{800.3}{1011.7}{815}
\firec{fc3}{1460.8}{800.3}{1470.6}{815}
\firec{fc4}{2218}{664}{2227.7}{678}
\firec{fc5}{1583}{1133}{1592.4}{1147}

%% column markers
\hbeam{hb1}{427.6}{184}
\hbeam{hb2}{427.6}{1152.7}
\beampair{bpa}{bpb}{1820}{184}{1877.3}{200}
\beampair{bpc}{bpd}{1822}{1152.7}{1878}{1168.3}

%% labels at walls
\node[exitlab] (ex1) at (108.7,179) {Exit};
\node[exitlab] (ex2) at (201.5,166.7) {EXIT};
\node[exitrot] (ex3) at (349,171.7) {Exit};
\node[exitlab] (ex4) at (521,107.7) {EXIT};
\node[exitlab] (ex5) at (665,170) {EXIT};
\node[exitlab] (ex6) at (836,150.7) {EXIT};
\node[exitlab] (ex7) at (1285.7,150.7) {EXIT};
\node[exitlab] (ex8) at (1456,166.7) {EXIT};
\node[exitrot] (ex9) at (1515.8,98.3) {Exit};
\node[exitrot] (ex10) at (2298.7,250) {Exit};
\node[exitrot] (ex11) at (2291.6,1236) {Exit};
\node[exitlab] (ex12) at (102,1171) {Exit};
\node[exitlab] (ex13) at (199,1181) {EXIT};
\node[exitrot] (ex14) at (364,1171.7) {Exit};
\node[exitlab] (ex15) at (519.4,1237.7) {EXIT};
\node[exitlab] (ex16) at (662,1175.7) {EXIT};
\node[exitlab] (ex17) at (833,1196.7) {EXIT};
\node[exitlab] (ex18) at (1456,1175.7) {EXIT};
\node[exitrot] (ex19) at (1518,1245) {Exit};
\node[ramp] (r1) at (33,234) {Ramp to};
\node[ramp] (r2) at (48.5,234) {Loading Dock};
\node[ramp] (r3) at (63,234) {Ground Level};
\node[ramp] (r4) at (11,1111.7) {Ramp to};
\node[ramp] (r5) at (26.5,1111.7) {Loading Dock};
\node[ramp] (r6) at (41,1111.7) {Ground Level};
\node[ramp] (r7) at (48.5,1003) {Overhead};
\node[ramp] (r8) at (63,1003) {Doors to};
\node[ramp] (r9) at (78,1003) {Loading Dock};
\begin{scope}
\clip (82,1007) rectangle (100,1045);
\node[ramp] (r10) at (92,1003) {Dock Level};
\end{scope}

%% big side texts
\foreach \t/\yy/\n in {Access/355/1,to all/403.5/2,booths/453/3,inside/502/4,BLUE/552/5,dotted line/602/6,via the/651/7,NORTH/700/8,DOCK/749/9}{
  \node[bigblue] (acc\n) at (58,\yy) {\t};
}
\path[fill=arrb,draw=black!70,line width=0.7pt] (113.7,541) -- (171.4,541) -- (149.3,518.3) -- (160.7,507.3) -- (206.7,552.3) -- (160.7,598.3) -- (149.3,586) -- (171.4,563.3) -- (113.7,563.3) -- cycle;
\node[bigred] (ra) at (2303,411) {A};
\node[bigred] (ri) at (2305,507) {I};
\node[bigred] (rd) at (2272,652) {do};
\node[bigred] (rs) at (2303,752) {S};
\path[fill=red,draw=black!70,line width=0.7pt] (2242.3,589) -- (2287.7,543) -- (2299.3,553.3) -- (2276,577.5) -- (2320,577.5) -- (2320,600.4) -- (2276,600.4) -- (2299.3,623.4) -- (2287.7,634) -- cycle;

%% texts bottom
\node[inner sep=0pt,font=\fs{21}\semib,anchor=west] (rbc1) at (579,1223.3) {RBC Convention Centre Winnipeg};
\node[inner sep=0pt,font=\fs{21}\semib,anchor=west] (rbc2) at (579,1246.3) {Third Floor Exhibition Halls A.B.C.};
\node[inner sep=0pt,font=\fs{21}\semib,anchor=west] (rbc3) at (579,1270.3) {Event Dates: January 10-12, 2020};
\node[inner sep=0pt] (cd1) at (1057,1113.7) {\resizebox{112pt}{20pt}{\heavier\bfseries Floor plan by...}};
\node[inner sep=0pt] (cd2) at (1057,1136) {\resizebox{168pt}{15.5pt}{\heavier\bfseries CENTRAL DISPLAY LTD.}};
\node[centertxt] (cd3) at (1057,1161) {email: info@centraldisplay.ca};
\node[centertxt] (cd4) at (1057,1185.3) {web: www.centraldisplay.ca};
\node[inner sep=0pt] (cd5) at (1057,1207) {\resizebox{138pt}{15.5pt}{\heavier\bfseries IP.V2.3 – 01.03.20}};
\node[inner sep=0pt] (cd6) at (1057,1231.3) {\resizebox{36pt}{19pt}{\heavier\bfseries tjwp}};
\node[inner sep=0pt,font=\fs{20}\semib] (entr) at (1284.7,1207) {ENTRANCE};

%% legend
\util{blue}{95.4}{1205}{10}{11}
\path[draw=black,line width=0.5pt,fill=blue] (105,1205) rectangle (110.7,1216);
\path[draw=black,line width=0.5pt,fill=blue] (112,1205) rectangle (118,1216);
\util{orng}{95.4}{1226.7}{10}{11}
\path[draw=black,line width=0.5pt,fill=orng] (105,1226.7) rectangle (110.7,1237.7);
\path[draw=black,line width=0.5pt,fill=orng] (112,1226.7) rectangle (118,1237.7);
\util{pilg}{95.4}{1250.7}{10}{11.6}
\path[draw=black,line width=0.5pt,fill=pilg] (105,1250.7) rectangle (110.7,1262.3);
\path[draw=black,line width=0.5pt,fill=pilg] (112,1250.7) rectangle (118,1262.3);
\firec{lgf}{106.6}{1272}{116.3}{1286.7}
\path[fill=lowg,dotgrey] (101.5,1291.7) rectangle (116.3,1306.7);
\path[sensor] (88.3,1314.3) rectangle (116.3,1322.3);
\draw[sensordots] (88.3,1318.3) -- (116.3,1318.3);
\hbeam{lgp}{106}{1335}
\node[legtxt] (lg1) at (145.4,1212.3) {Drain/Water/Electrical};
\node[legtxt] (lg2) at (141.3,1236.3) {Drain/Water/Air/Gas/Electrical};
\node[legtxt] (lg3) at (153,1256.7) {Electrical};
\node[legtxt] (lg4) at (152,1279.3) {Fire Control};
\node[legtxt] (lg5) at (159.7,1302) {2 - Low Load Area’s (floor load limits apply in these locations 100 lb.psf. - ALARMED)};
\node[legtxt] (lg6) at (153,1319.3) {Floor Sensor};
\node[legtxt] (lg7) at (152,1340) {Pillars – Hall C};

%% BLUE dashed boundary
\draw[bsolid] (209.7,201) -- (209.7,180.3) -- (226,180.3);
\draw[bdash] (249.5,180.3) -- (1250,180.3);
\draw[bsolid] (1254,180.3) -- (1260.7,180.3) -- (1260.7,209);
\draw[bdash] (1260.7,234.8) -- (1260.7,1160);
\draw[bdash] (209.7,225.5) -- (209.7,1150);
\draw[bdash] (211.7,1171.3) -- (1252,1171.3);
%% RED dashed boundary
\draw[rdash] (1296.4,157.3) -- (2221,157.3);
\draw[rdash] (1276.5,164.2) -- (1276.5,1265);
\draw[rsolid] (1276.5,1289.2) -- (1276.5,1299.3) -- (1310.3,1299.3);
\draw[rdash] (1336.5,1299.3) -- (2200,1299.3);
\draw[rsolid] (2223.5,1299.3) -- (2241.6,1299.3) -- (2241.6,1284.2);
\draw[rdash] (2241.6,159.2) -- (2241.6,1262);
\end{tikzpicture}
\end{document}
